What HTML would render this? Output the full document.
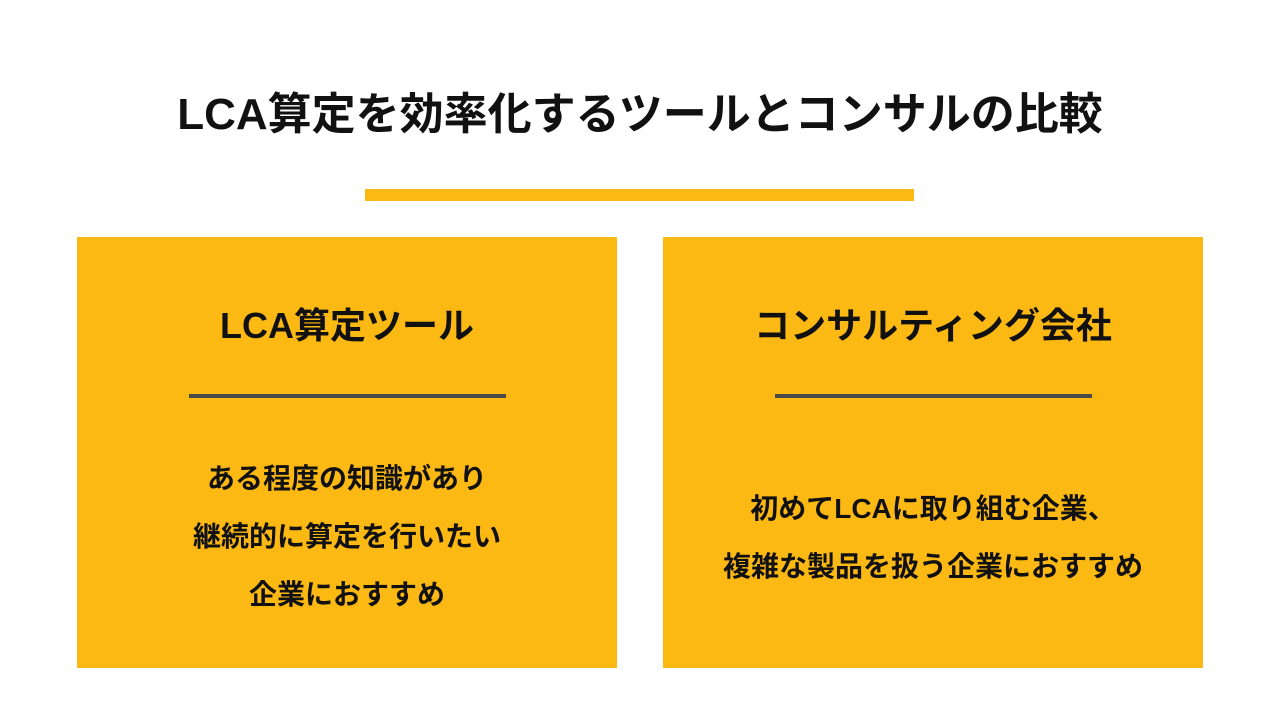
<!DOCTYPE html>
<html><head><meta charset="utf-8"><style>
html,body{margin:0;padding:0;}
body{width:1280px;height:720px;background:#fff;position:relative;overflow:hidden;font-family:"Liberation Sans","Noto Sans CJK JP",sans-serif;font-weight:bold;color:#111;}
.abs{position:absolute;}
.title{left:0;width:1280px;top:87px;text-align:center;font-size:44px;line-height:56px;}
.bar{left:365px;top:189px;width:549px;height:12px;background:#FDB913;}
.box{top:237px;width:540px;height:431px;background:#FDB913;}
.bt{left:0;width:540px;top:64px;text-align:center;font-size:36px;line-height:50px;}
.ln{left:112px;width:317px;top:157px;height:4px;background:#4a4a4a;}
.body{left:0;width:540px;text-align:center;font-size:28px;line-height:58px;}
</style></head><body>
<div class="abs title">LCA算定を効率化するツールとコンサルの比較</div>
<div class="abs bar"></div>
<div class="abs box" style="left:77px;">
 <div class="abs bt">LCA算定ツール</div>
 <div class="abs ln"></div>
 <div class="abs body" style="top:213px;">ある程度の知識があり<br>継続的に算定を行いたい<br>企業におすすめ</div>
</div>
<div class="abs box" style="left:663px;">
 <div class="abs bt">コンサルティング会社</div>
 <div class="abs ln"></div>
 <div class="abs body" style="top:243px;">初めてLCAに取り組む企業、<br>複雑な製品を扱う企業におすすめ</div>
</div>
</body></html>
